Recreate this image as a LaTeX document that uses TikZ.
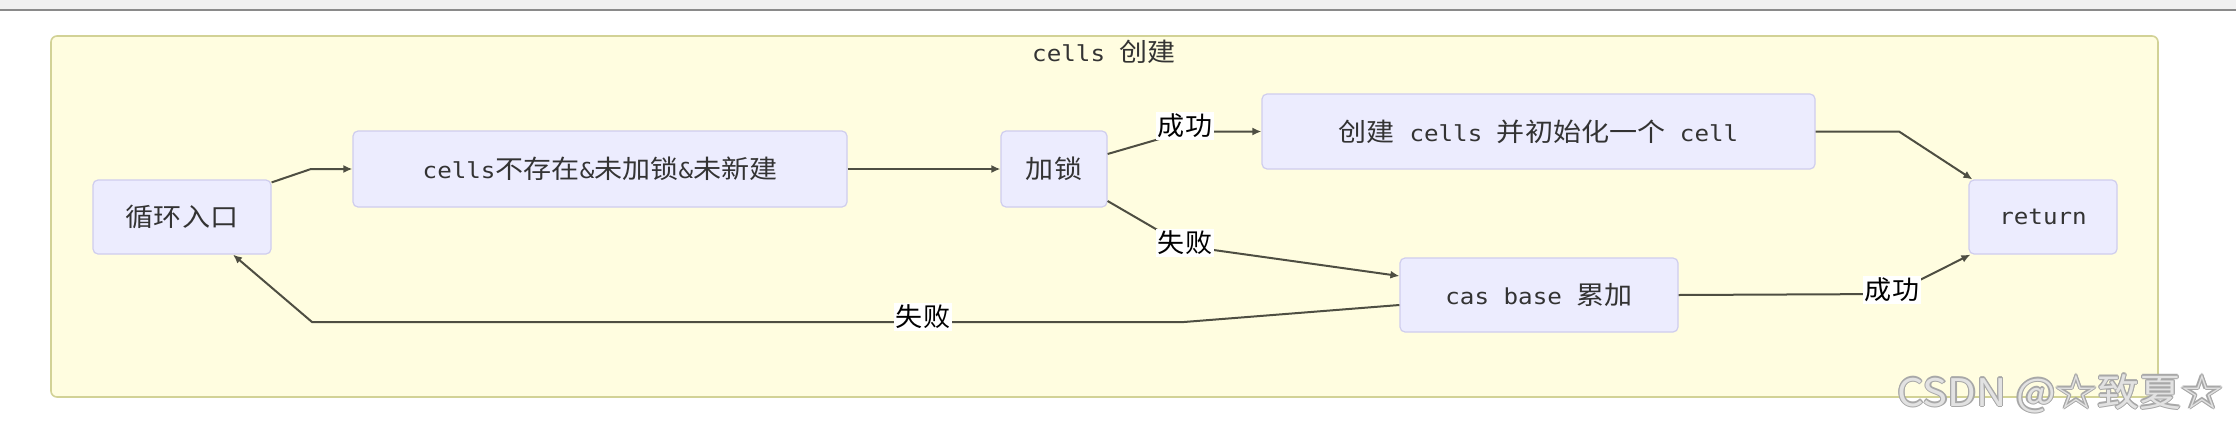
\documentclass[tikz,border=0pt]{standalone}
\usepackage{fontspec}
\newfontfamily\monof[FakeStretch=1.1]{DejaVu Sans Mono}
\newfontfamily\cjkf[FakeStretch=1.1,Scale=1.16]{Noto Sans CJK SC}
\newfontfamily\lblf[FakeStretch=1.04]{Noto Sans CJK SC}
\newfontfamily\wmf[FakeStretch=1.1]{Noto Sans CJK SC}
\usetikzlibrary{arrows.meta,calc}
\definecolor{clusterfill}{HTML}{FFFDE0}
\definecolor{clusterline}{HTML}{D2D296}
\definecolor{boxfill}{HTML}{ECECFE}
\definecolor{boxline}{HTML}{CFCDEE}
\definecolor{linec}{HTML}{4E4E42}
\definecolor{txt}{HTML}{333333}
\definecolor{barfill}{HTML}{F0F0F0}
\definecolor{barline}{HTML}{8A8A8A}
\definecolor{wmc}{HTML}{E2E2E2}
\definecolor{wmedge}{HTML}{A8A8A8}
\newcommand\zh[1]{{\cjkf #1}}
\tikzset{
  box/.style={draw=boxline, fill=boxfill, line width=0.6pt, rounded corners=2.5pt,
    inner sep=0pt, minimum height=37pt, text=txt,
    font=\monof\fontsize{11}{13}\selectfont},
  flow/.style={draw=linec, line width=1pt, -{Latex[length=4.5pt,width=4pt]}},
  elabel/.style={fill=white, inner sep=1.2pt, text=black,
    font=\lblf\fontsize{13}{15}\selectfont},
  titletext/.style={text=txt, font=\monof\fontsize{11}{13}\selectfont},
  wm/.style={text=wmc, font=\wmf\fontsize{19}{21}\selectfont, inner sep=0pt, anchor=base west}
}
\begin{document}
\begin{tikzpicture}[x=0.5pt,y=-0.5pt]
\useasboundingbox (0,0) rectangle (2236,429);
\fill[white] (0,0) rectangle (2236,429);
\fill[barfill] (0,0) rectangle (2236,9);
\draw[barline, line width=0.8pt] (0,10) -- (2236,10);
\draw[clusterline, fill=clusterfill, line width=0.8pt, rounded corners=3pt] (51,36) rectangle (2158,397);
\node[titletext] (title) at (1104,52) {cells \zh{创建}};

\node[box, minimum width=89pt] (entry) at (182,217) {\zh{循环入口}};
\node[box, minimum width=247pt, minimum height=38pt] (cells) at (600,169) {cells\zh{不存在}\&\zh{未加锁}\&\zh{未新建}};
\node[box, minimum width=53pt, minimum height=38pt] (lock) at (1054,169) {\zh{加锁}};
\node[box, minimum width=276.5pt, minimum height=37.5pt] (create) at (1538.5,131.5) {\zh{创建} cells \zh{并初始化一个} cell};
\node[box, minimum width=139pt] (cas) at (1539,295) {cas base \zh{累加}};
\node[box, minimum width=74pt] (ret) at (2043,217) {return};

\coordinate (b1) at (311,169);
\coordinate (b2) at (1185,131.5);
\coordinate (b3) at (1185,246);
\coordinate (b4) at (1184,322);
\coordinate (b5) at (312,322);
\coordinate (b6) at (1899,131.5);
\coordinate (b7) at (1892,294);

\draw[flow] ([yshift=-1.5pt]entry.north east) -- (b1) -- (cells.west);
\draw[flow] (cells.east) -- (lock.west);
\draw[flow] ([yshift=7.5pt]lock.east) -- (b2) -- (create.west);
\draw[flow] ([yshift=-16pt]lock.east) -- (b3) -- ([yshift=9.5pt]cas.west);
\draw[flow] ([yshift=-5pt]cas.west) -- (b4) -- (b5) -- ([xshift=25.5pt]entry.south);
\draw[flow] (create.east) -- (b6) -- ([xshift=2pt]ret.north west);
\draw[flow] (cas.east) -- (b7) -- ([xshift=1pt]ret.south west);

\node[elabel] (l1) at (1185,126) {成功};
\node[elabel] (l2) at (1185,243) {失败};
\node[elabel] (l3) at (923,317) {失败};
\node[elabel] (l4) at (1892,290) {成功};

\coordinate (wmpos) at (1897,406);
\foreach \dx/\dy [count=\i] in {-0.6/0,0.6/0,0/-0.6,0/0.6,-0.45/-0.45,0.45/-0.45,-0.45/0.45,0.45/0.45}{
  \node[wm, text=wmedge] (wmedge\i) at ([xshift=\dx pt,yshift=\dy pt]wmpos) {CSDN @☆致夏☆};
}
\node[wm] (wmark) at (wmpos) {CSDN @☆致夏☆};
\end{tikzpicture}
\end{document}
